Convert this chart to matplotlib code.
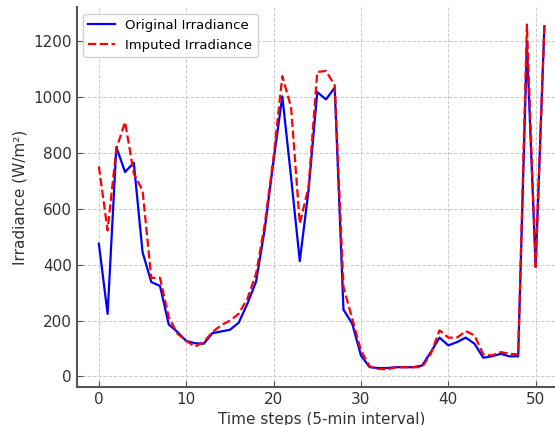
import matplotlib
matplotlib.use("Agg")
from matplotlib import pyplot as plt

# time steps and irradiance
steps = list(range(52))
original = [475, 224, 821, 732, 765, 445, 338, 324, 186, 159,
            127, 119, 117, 155, 161, 167, 192, 260, 340, 530,
            774, 1003, 714, 413, 666, 1018, 992, 1034, 239, 189,
            75, 33, 30, 30, 33, 33, 33, 39, 87, 139,
            111, 123, 139, 117, 67, 72, 81, 72, 72, 1190,
            392, 1254]
imputed = [752, 523, 815, 911, 726, 666, 353, 353, 212, 153,
           127, 107, 123, 159, 183, 200, 224, 278, 368, 547,
           786, 1075, 965, 547, 678, 1090, 1094, 1042, 320, 207,
           93, 36, 27, 25, 33, 33, 33, 33, 81, 165,
           139, 139, 162, 147, 79, 75, 87, 81, 79, 1260,
           392, 1254]

plt.rcParams['font.family'] = 'DejaVu Sans'
fig = plt.figure(figsize=(5.55, 4.25), dpi=100)
ax = fig.add_axes([0.138, 0.090, 0.883, 0.893])

ax.plot(steps, original, color='blue', linewidth=1.6, label='Original Irradiance')
ax.plot(steps, imputed, color='red', linewidth=1.6, linestyle='--', label='Imputed Irradiance')

ax.set_xlim(-2.55, 53.55)
ax.set_ylim(-37, 1322)
ax.set_xlabel('Time steps (5-min interval)', fontsize=11, color='#333333')
ax.set_ylabel('Irradiance (W/m²)', fontsize=11, color='#333333')

ax.grid(True, linestyle='--', color='#cccccc', linewidth=0.7)
for side in ['top', 'right']:
    ax.spines[side].set_visible(False)
for side in ['left', 'bottom']:
    ax.spines[side].set_color('#555555')
    ax.spines[side].set_linewidth(1.5)
ax.tick_params(direction='in', length=4, color='#555555', labelcolor='#333333', labelsize=11)

leg = ax.legend(loc='upper left', fontsize=9.5, framealpha=0.9, edgecolor='#cccccc', fancybox=True)

fig.savefig('out.png', dpi=100)
